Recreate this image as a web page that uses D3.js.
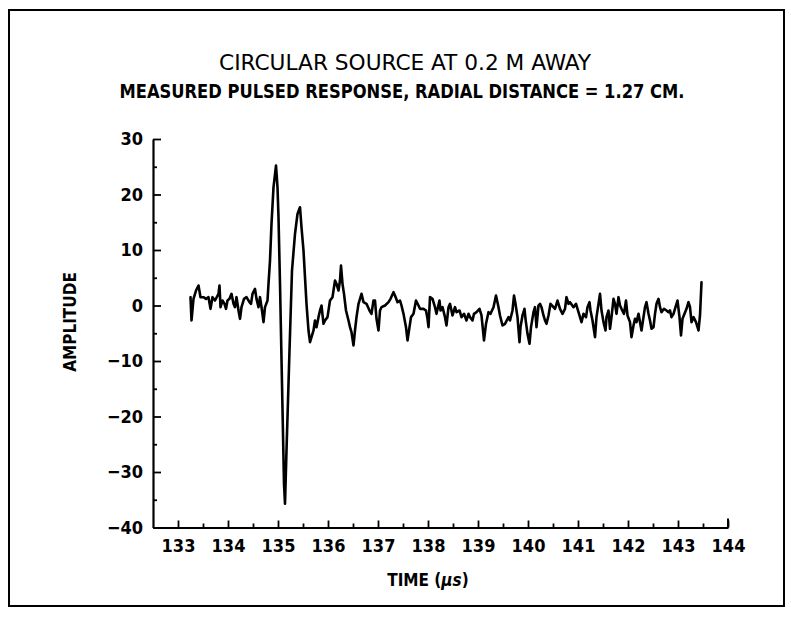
<!DOCTYPE html>
<html>
<head>
<meta charset="utf-8">
<script src="https://cdn.jsdelivr.net/npm/d3@7"></script>
<style>
  html, body { margin: 0; padding: 0; background: #fff; }
  svg { display: block; }
  text { fill: #000; font-family: "DejaVu Sans Condensed", "Liberation Sans Narrow", "DejaVu Sans", sans-serif; font-stretch: condensed; }
</style>
</head>
<body>
<svg id="chart" width="791" height="622"></svg>
<script>
// Measured pulsed response: time (µs) and amplitude samples
const times = [
  133.25, 133.27, 133.31, 133.36, 133.41, 133.45, 133.51, 133.56, 133.61, 133.65,
  133.69, 133.74, 133.81, 133.83, 133.85, 133.89, 133.93, 133.96, 133.99, 134.03,
  134.07, 134.11, 134.14, 134.17, 134.21, 134.24, 134.27, 134.32, 134.37, 134.43,
  134.46, 134.49, 134.54, 134.57, 134.61, 134.64, 134.68, 134.71, 134.74, 134.79,
  134.81, 134.84, 134.87, 134.91, 134.96, 134.99, 135.01, 135.04, 135.08, 135.12,
  135.14, 135.17, 135.23, 135.28, 135.34, 135.39, 135.44, 135.47, 135.51, 135.54,
  135.57, 135.61, 135.64, 135.67, 135.71, 135.74, 135.77, 135.81, 135.84, 135.87,
  135.91, 135.94, 135.99, 136.04, 136.09, 136.14, 136.17, 136.21, 136.24, 136.26,
  136.29, 136.32, 136.36, 136.41, 136.44, 136.47, 136.51, 136.54, 136.57, 136.61,
  136.67, 136.71, 136.77, 136.83, 136.87, 136.91, 136.94, 136.97, 137.01, 137.04,
  137.07, 137.14, 137.21, 137.25, 137.31, 137.34, 137.39, 137.44, 137.47, 137.51,
  137.56, 137.59, 137.63, 137.66, 137.71, 137.76, 137.81, 137.84, 137.91, 137.96,
  137.99, 138.01, 138.04, 138.09, 138.14, 138.17, 138.23, 138.25, 138.29, 138.34,
  138.37, 138.41, 138.44, 138.49, 138.54, 138.57, 138.63, 138.67, 138.72, 138.77,
  138.81, 138.84, 138.89, 138.92, 138.97, 139.03, 139.07, 139.12, 139.16, 139.21,
  139.25, 139.31, 139.36, 139.41, 139.44, 139.49, 139.54, 139.61, 139.64, 139.69,
  139.72, 139.75, 139.79, 139.83, 139.85, 139.89, 139.93, 139.95, 139.99, 140.03,
  140.06, 140.11, 140.14, 140.17, 140.21, 140.24, 140.27, 140.31, 140.34, 140.37,
  140.41, 140.45, 140.51, 140.54, 140.59, 140.64, 140.69, 140.74, 140.77, 140.81,
  140.84, 140.91, 140.96, 141.01, 141.04, 141.07, 141.11, 141.16, 141.19, 141.23,
  141.25, 141.29, 141.34, 141.37, 141.41, 141.44, 141.47, 141.51, 141.55, 141.57,
  141.61, 141.64, 141.67, 141.71, 141.74, 141.77, 141.81, 141.84, 141.87, 141.92,
  141.96, 141.99, 142.04, 142.07, 142.11, 142.14, 142.17, 142.21, 142.27, 142.31,
  142.34, 142.37, 142.41, 142.44, 142.47, 142.51, 142.54, 142.57, 142.61, 142.64,
  142.67, 142.72, 142.77, 142.81, 142.84, 142.87, 142.91, 142.95, 142.99, 143.03,
  143.06, 143.09, 143.13, 143.17, 143.21, 143.24, 143.27, 143.31, 143.36, 143.41,
  143.44, 143.47
];
const amplitude = [
  1.5, -2.7, 1.2, 2.7, 3.6, 1.5, 1.5, 1.2, 1.5, -0.6,
  1.5, 0.9, 2.1, 3.6, -0.3, 0.9, 0.3, -0.6, 0.9, 1.2,
  2.1, 0.3, -0.3, 1.5, -0.9, -2.4, -0.3, 1.2, 1.5, 0.6,
  0.3, 2.1, 3.0, 1.2, -0.3, 1.5, -0.9, -3.0, -0.3, 0.9,
  3.9, 8.1, 14.7, 21.3, 25.2, 21.3, 15.9, 3.9, -14.1, -32.1,
  -35.7, -26.1, -8.1, 6.3, 12.9, 16.5, 17.7, 14.1, 9.9, 5.1,
  0.3, -4.5, -6.6, -5.7, -4.5, -2.7, -3.9, -2.1, -0.9, 0.0,
  -3.3, -2.7, -2.1, 0.9, 1.5, 4.5, 3.9, 2.7, 4.5, 7.2,
  3.9, 2.1, -0.9, -2.7, -3.9, -4.8, -7.2, -4.5, -2.1, 0.3,
  2.1, 0.6, 0.3, -0.9, -1.5, 0.9, 0.9, -2.4, -4.5, -0.9,
  -0.3, 0.0, 0.6, 1.2, 2.4, 1.8, 0.6, 0.9, 0.0, -1.5,
  -3.9, -6.3, -3.9, -2.1, -1.5, 0.9, 0.0, -0.6, -0.6, -0.9,
  -2.4, -3.9, 1.5, 1.2, -0.3, -1.5, 0.9, -0.9, -0.3, -2.1,
  -3.6, -0.3, 0.3, -1.8, -0.3, -1.2, -0.9, -2.1, -1.5, -2.7,
  -1.5, -2.1, -2.7, -1.5, -1.2, -0.6, -1.8, -6.3, -3.3, -1.2,
  -1.5, -0.3, 1.8, -0.3, -1.8, -3.6, -3.3, -2.1, -2.7, -0.9,
  1.8, 0.3, -2.1, -6.6, -3.9, -1.8, -0.6, -2.4, -5.1, -6.9,
  -3.9, -1.2, -0.3, -3.9, 0.0, 0.3, -0.3, -1.8, -2.7, -3.3,
  -1.8, 0.3, -0.3, -0.6, 0.9, -0.6, -1.5, -0.6, 1.5, 0.3,
  0.6, -0.3, 0.3, -1.2, -2.1, -3.0, -1.5, -2.1, -0.3, 0.6,
  -0.9, -2.7, -5.7, -2.1, 0.3, 2.1, -0.9, -3.0, -4.5, -2.1,
  -0.9, -4.2, -2.1, 1.2, 0.3, -1.5, 1.5, 0.0, -0.6, -1.5,
  0.9, -1.8, -3.0, -5.7, -3.6, -2.4, -3.0, -1.5, -4.5, -2.1,
  -0.3, 0.6, -1.5, -2.7, -4.2, -3.9, -1.5, 0.3, 1.2, -0.3,
  -1.2, -0.6, -0.9, -1.2, -0.9, -2.1, -1.5, -0.3, 0.9, -2.1,
  -5.4, -2.4, -1.5, -0.6, 0.6, -0.3, -3.0, -2.1, -3.0, -4.5,
  -1.8, 4.2
];

// Axis ticks
const xMajorTicks = [133, 134, 135, 136, 137, 138, 139, 140, 141, 142, 143, 144];
const xMinorTicks = [133.5, 134.5, 135.5, 136.5, 137.5, 138.5, 139.5, 140.5, 141.5, 142.5, 143.5];
const yMajorTicks = [30, 20, 10, 0, -10, -20, -30, -40];
const yMinorTicks = [25, 15, 5, -5, -15, -25, -35];
const xDomain = [132.5, 144];
const yDomain = [-40, 30];

const titleText = "CIRCULAR SOURCE AT 0.2 M AWAY";
const subtitleText = "MEASURED PULSED RESPONSE, RADIAL DISTANCE = 1.27 CM.";
const yLabelText = "AMPLITUDE";

const svg = d3.select("#chart");

// page frame
svg.append("rect")
  .attr("x", 9).attr("y", 10).attr("width", 775).attr("height", 596)
  .attr("fill", "none").attr("stroke", "#000").attr("stroke-width", 2);

const x = d3.scaleLinear().domain(xDomain).range([153, 728]);
const y = d3.scaleLinear().domain(yDomain).range([527.5, 139]);

// titles
svg.append("text")
  .attr("x", 405).attr("y", 70)
  .attr("text-anchor", "middle")
  .attr("font-size", 22)
  .attr("textLength", 372).attr("lengthAdjust", "spacingAndGlyphs")
  .text(titleText);

svg.append("text")
  .attr("x", 402).attr("y", 98)
  .attr("text-anchor", "middle")
  .attr("font-size", 19)
  .attr("font-weight", "bold")
  .attr("textLength", 565).attr("lengthAdjust", "spacingAndGlyphs")
  .text(subtitleText);

// x axis: major ticks with labels, minor ticks at half units
const xAxisG = svg.append("g").attr("transform", `translate(0,${y(-40)})`);
xAxisG.call(d3.axisBottom(x).tickValues(xMajorTicks).tickSizeInner(-7).tickSizeOuter(0).tickPadding(12).tickFormat(d3.format("d")));
xAxisG.append("g").call(d3.axisBottom(x).tickValues(xMinorTicks).tickSizeInner(-4).tickSizeOuter(0).tickFormat(""))
  .select(".domain").remove();

// y axis
const yAxisG = svg.append("g").attr("transform", `translate(${x(132.5)},0)`);
yAxisG.call(d3.axisLeft(y).tickValues(yMajorTicks).tickSizeInner(-8).tickSizeOuter(0).tickPadding(10).tickFormat(d3.format("d")));
yAxisG.append("g").call(d3.axisLeft(y).tickValues(yMinorTicks).tickSizeInner(-4).tickSizeOuter(0).tickFormat(""))
  .select(".domain").remove();

// end tick at the right of the x axis
xAxisG.append("line")
  .attr("x1", x(144)).attr("x2", x(144)).attr("y1", 0).attr("y2", -9)
  .attr("stroke", "#000").attr("stroke-width", 2);

svg.selectAll(".domain").attr("stroke", "#000").attr("stroke-width", 2.2);
svg.selectAll(".tick line").attr("stroke", "#000").attr("stroke-width", 1.8);
svg.selectAll(".tick text")
  .attr("fill", "#000")
  .attr("font-size", 18)
  .attr("font-weight", "bold")
  .style("font-family", "\"DejaVu Sans Condensed\", \"Liberation Sans Narrow\", sans-serif");

// axis titles
const xLabel = svg.append("text")
  .attr("x", 428).attr("y", 586)
  .attr("text-anchor", "middle")
  .attr("font-size", 17)
  .attr("font-weight", "bold");
xLabel.append("tspan").text("TIME (");
xLabel.append("tspan").attr("font-style", "italic").text("µs");
xLabel.append("tspan").text(")");

svg.append("text")
  .attr("transform", "translate(76,322) rotate(-90)")
  .attr("text-anchor", "middle")
  .attr("font-size", 17)
  .attr("font-weight", "bold")
  .text(yLabelText);

// signal trace
const series = times.map((t, i) => ({ t, v: amplitude[i] }));
svg.append("path")
  .datum(series)
  .attr("fill", "none")
  .attr("stroke", "#000")
  .attr("stroke-width", 2.6)
  .attr("stroke-linejoin", "round")
  .attr("stroke-linecap", "round")
  .attr("d", d3.line().x(d => x(d.t)).y(d => y(d.v)));
</script>
</body>
</html>
